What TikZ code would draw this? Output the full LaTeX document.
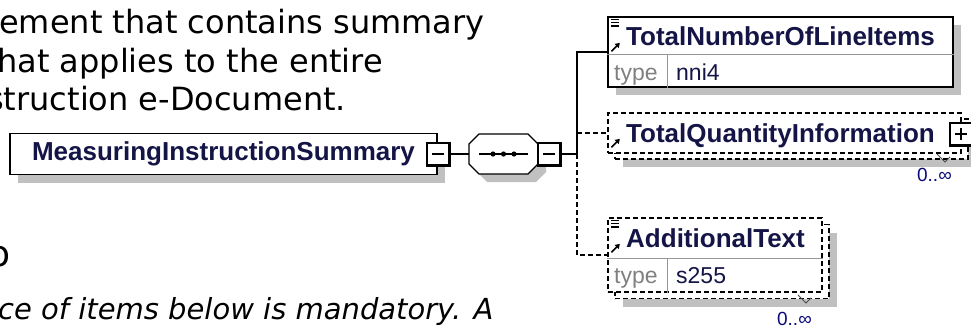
\documentclass[tikz,border=0pt]{standalone}
\usepackage{fontspec}
\setmainfont{DejaVu Sans}
\newfontfamily\diagfont{Liberation Sans}
\usetikzlibrary{positioning,shadows,arrows.meta}

\definecolor{nametext}{RGB}{20,20,70}
\definecolor{cardblue}{RGB}{10,10,120}
\definecolor{shadowgray}{RGB}{192,192,192}
\definecolor{typegray}{RGB}{128,128,128}
\definecolor{dividergray}{RGB}{150,150,150}

\tikzset{
  boxshadow/.style={drop shadow={shadow xshift=8pt, shadow yshift=-8pt, fill=shadowgray, draw=none, opacity=1}},
  elembox/.style={draw, line width=1.3pt, fill=white, inner sep=0pt},
  optbox/.style={elembox, dash pattern=on 5pt off 3pt},
  elemname/.style={inner sep=0pt, text=nametext, font=\diagfont\bfseries\fontsize{26}{30}\selectfont},
  typelabel/.style={inner sep=0pt, text=typegray, font=\diagfont\fontsize{23}{27}\selectfont},
  typename/.style={inner sep=0pt, text=nametext, font=\diagfont\fontsize{23}{27}\selectfont},
  cardlabel/.style={inner sep=0pt, text=cardblue, font=\diagfont\fontsize{19}{22}\selectfont},
  desctext/.style={inner sep=0pt, font=\fontsize{32}{38}\selectfont},
  togglebox/.style={draw, line width=1.2pt, fill=white, minimum size=22pt, inner sep=0pt},
  minusmark/.style={togglebox, path picture={
    \draw[line width=1.3pt] ([xshift=-6pt]path picture bounding box.center) -- ([xshift=6pt]path picture bounding box.center);}},
  plusmark/.style={togglebox, path picture={
    \draw[line width=1.3pt] ([xshift=-6pt]path picture bounding box.center) -- ([xshift=6pt]path picture bounding box.center);
    \draw[line width=1.3pt] ([yshift=-6pt]path picture bounding box.center) -- ([yshift=6pt]path picture bounding box.center);}},
  connector/.style={line width=1.3pt},
  optconnector/.style={connector, dash pattern=on 5pt off 3pt},
  divider/.style={dividergray, line width=1.2pt},
  refarrow/.style={line width=1.6pt, -{Triangle[length=4.5pt,width=5.5pt]}},
  cardmark/.style={line width=1pt, black!70}
}

\begin{document}
\begin{tikzpicture}[x=1pt,y=-1pt]
  \useasboundingbox (0,0) rectangle (971,325);
  \clip (0,0) rectangle (971,325);

  % text of the page behind the diagram
  \node[desctext, anchor=base west] (descLineA) at (-1,33) {ement that contains summary};
  \node[desctext, anchor=base west] (descLineB) at (-3,72) {hat applies to the entire};
  \node[desctext, anchor=base west] (descLineC) at (-13,110) {struction e-Document.};
  \node[inner sep=0pt, font=\fontsize{36}{40}\selectfont, anchor=base west] (headTail) at (-12,266) {o};
  \node[desctext, font=\itshape\fontsize{29}{34}\selectfont, anchor=base west] (noteLine) at (-2,319) {ce of items below is mandatory. A};

  % child boxes
  \coordinate (busJoin) at (577,154);
  \node[elembox, boxshadow, minimum width=345pt, minimum height=70pt] (numItems) at (780.5,52) {};
  \node[optbox, boxshadow, minimum width=353pt, minimum height=40pt] (tqiBack) at (791.5,139) {};
  \node[optbox, minimum width=353pt, minimum height=40pt] (tqi) at (784.5,133) {};
  \node[optbox, boxshadow, minimum width=214pt, minimum height=74pt] (addTextBack) at (722,261.5) {};
  \node[optbox, minimum width=214pt, minimum height=74pt] (addText) at (715,255) {};

  % sequence compositor
  \node[inner sep=0pt, minimum width=69pt, minimum height=40pt] (seqComp) at (503.5,154) {};
  \fill[shadowgray, xshift=8pt, yshift=-8pt] (479,134) -- (528,134) -- (538,144) -- (538,164)
    -- (528,174) -- (479,174) -- (469,164) -- (469,144) -- cycle;
  \draw[connector, fill=white] (479,134) -- (528,134) -- (538,144) -- (538,164)
    -- (528,174) -- (479,174) -- (469,164) -- (469,144) -- cycle;
  \draw[connector] ([xshift=-24.5pt]seqComp.center) -- ([xshift=24.5pt]seqComp.center);
  \foreach \dx in {-10.5,0,10.5}
    \fill ([xshift=\dx pt]seqComp.center) circle (2.6pt);

  \node[elembox, boxshadow, elemname, minimum width=427pt, minimum height=41pt] (mainElem) at (223.5,154) {MeasuringInstructionSummary};
  \node[minusmark] (mainMinus) at (438,154) {};
  \node[minusmark] (seqMinus) at (549,154) {};
  \node[plusmark] (tqiPlus) at (961,134) {};
  \foreach \tg in {mainMinus,seqMinus,tqiPlus}
    \draw[line width=2.4pt] (\tg.north east) -- (\tg.south east) -- (\tg.south west);

  % connectors
  \draw[connector] (mainMinus.east) -- (seqComp.west);
  \draw[connector] (seqMinus.east) -- (busJoin) |- (numItems.west);
  \draw[optconnector] (busJoin) |- (addText.west);
  \draw[optconnector] (busJoin |- tqi.west) -- (tqi.west);

  % rows inside the boxes
  \draw[divider] ([yshift=-38pt]numItems.north west) -- ([yshift=-38pt]numItems.north east);
  \draw[divider] ([shift={(60pt,-38pt)}]numItems.north west) -- ([xshift=60pt]numItems.south west);
  \draw[divider] ([yshift=-41pt]addText.north west) -- ([yshift=-41pt]addText.north east);
  \draw[divider] ([shift={(60pt,-41pt)}]addText.north west) -- ([xshift=60pt]addText.south west);

  % icons
  \foreach \el in {numItems,addText}
    \foreach \dy in {3,6.3,9.6}
      \draw[line width=1.2pt] ([shift={(4,\dy)}]\el.north west) -- ++(8,0);
  \foreach \el in {numItems,tqi,addText}
    \draw[refarrow] ([shift={(4,35)}]\el.north west) -- ++(8.5,-8.5);

  % labels
  \node[elemname, anchor=base west] (numItemsName) at (626,45) {TotalNumberOfLineItems};
  \node[typelabel, anchor=base west] (numItemsType) at (614,80) {type};
  \node[typename, anchor=base west] (numItemsValue) at (676,80) {nni4};
  \node[elemname, anchor=base west] (tqiName) at (626,142) {TotalQuantityInformation};
  \node[elemname, anchor=base west] (addTextName) at (626,247) {AdditionalText};
  \node[typelabel, anchor=base west] (addTextType) at (614,283) {type};
  \node[typename, anchor=base west] (addTextValue) at (676,283) {s255};

  % occurrence marks
  \draw[cardmark] (937,154) -- (945,162) -- (950,157);
  \draw[cardmark] (798,295) -- (806,303) -- (811,298);
  \node[cardlabel, anchor=base east] (tqiCard) at (952,181) {0..∞};
  \node[cardlabel, anchor=base east] (addTextCard) at (812,325) {0..∞};
\end{tikzpicture}
\end{document}
